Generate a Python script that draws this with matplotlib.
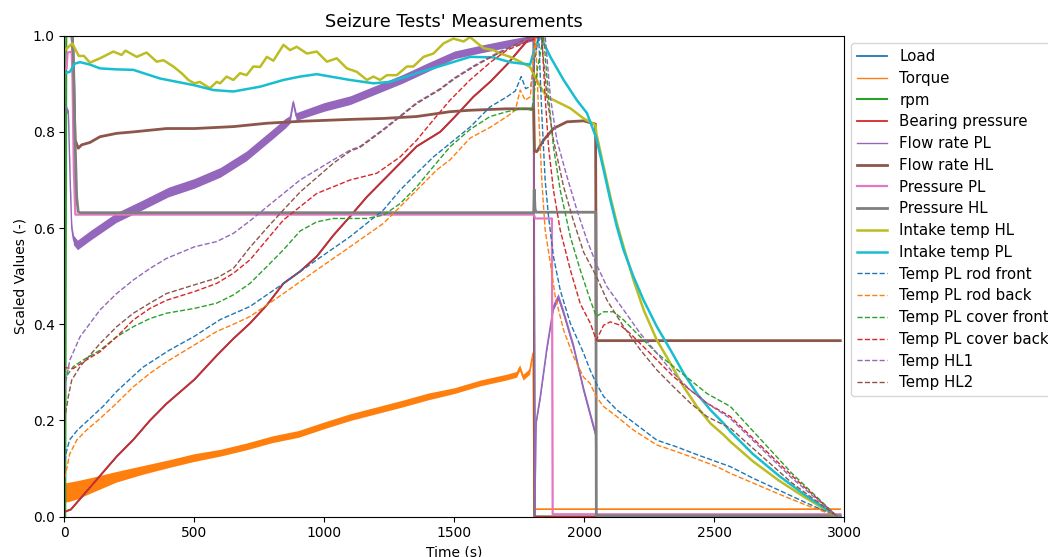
import matplotlib
matplotlib.use("Agg")
import matplotlib.pyplot as plt
import numpy as np

# ---------------------------------------------------------------

# bearing pressure (scaled load coincides with it)
bearing_t = [0, 25, 73, 137, 201, 265, 329, 393, 500, 586, 650, 714, 779, 843, 907, 971,
             1035, 1099, 1164, 1228, 1292, 1356, 1446, 1500, 1574, 1640, 1703, 1750, 1790,
             1806, 1809, 2986]
bearing_v = [0.01, 0.015, 0.045, 0.085, 0.125, 0.16, 0.2, 0.235, 0.285, 0.335, 0.37, 0.402,
             0.44, 0.485, 0.51, 0.541, 0.585, 0.624, 0.665, 0.70, 0.735, 0.77, 0.80, 0.83,
             0.873, 0.905, 0.94, 0.97, 0.995, 1.0, 0.0, 0.0]
load_t = list(bearing_t)
load_v = list(bearing_v)

torque_t = [0, 20, 50, 100, 200, 300, 400, 500, 600, 700, 800, 900, 1000, 1100, 1200, 1300,
            1400, 1500, 1600, 1700, 1740, 1752, 1765, 1790, 1803, 1808, 1812, 2986]
torque_v = [0.05, 0.052, 0.056, 0.065, 0.083, 0.097, 0.11, 0.123, 0.133, 0.146, 0.161, 0.172,
            0.19, 0.207, 0.221, 0.235, 0.25, 0.262, 0.278, 0.29, 0.296, 0.31, 0.29, 0.302,
            0.34, 0.016, 0.016, 0.016]
torque_spread = [0.02, 0.02, 0.019, 0.016, 0.011, 0.009, 0.008, 0.008, 0.007, 0.007, 0.007,
                 0.007, 0.007, 0.007, 0.007, 0.007, 0.007, 0.006, 0.006, 0.006, 0.006, 0.006,
                 0.006, 0.006, 0.004, 0.001, 0.001, 0.001]

rpm_t = [0, 3, 7, 1806, 1809, 2986]
rpm_v = [0.0, 0.0, 1.0, 1.0, 0.0, 0.0]

flow_pl_t = [0, 15, 22, 28, 35, 50, 100, 200, 300, 400, 500, 600, 700, 800, 850, 868, 880,
             892, 1000, 1100, 1200, 1300, 1400, 1500, 1600, 1700, 1800, 1806, 1810, 1816,
             1831, 1857, 1882, 1900, 1921, 1959, 1998, 2044, 2047, 2986]
flow_pl_v = [0.855, 0.84, 0.70, 0.60, 0.575, 0.565, 0.585, 0.622, 0.648, 0.675, 0.693, 0.716,
             0.75, 0.795, 0.818, 0.826, 0.862, 0.832, 0.852, 0.866, 0.888, 0.91, 0.935, 0.96,
             0.972, 0.983, 0.995, 0.99, 0.0, 0.2, 0.25, 0.353, 0.437, 0.457, 0.423, 0.353,
             0.263, 0.17, 0.004, 0.004]
flow_pl_spread = [0.006, 0.006, 0.006, 0.008, 0.01, 0.01, 0.01, 0.01, 0.01, 0.01, 0.01,
                  0.01, 0.01, 0.01, 0.01, 0.008, 0.006, 0.008, 0.009, 0.009, 0.009, 0.009,
                  0.009, 0.008, 0.008, 0.008, 0.006, 0.003, 0.003, 0.006, 0.007, 0.007, 0.007,
                  0.007, 0.007, 0.007, 0.007, 0.007, 0.001, 0.001]

flow_hl_t = [0, 30, 36, 41, 53, 66, 98, 137, 201, 265, 393, 500, 650, 779, 907, 1100, 1228,
             1356, 1484, 1561, 1700, 1806, 1809, 1818, 1844, 1882, 1934, 1998, 2044, 2047, 2986]
flow_hl_v = [1.0, 1.0, 0.9, 0.783, 0.766, 0.773, 0.778, 0.79, 0.797, 0.80, 0.807, 0.807,
             0.811, 0.818, 0.822, 0.826, 0.828, 0.832, 0.842, 0.845, 0.848, 0.848, 0.76,
             0.759, 0.783, 0.807, 0.821, 0.823, 0.816, 0.366, 0.366]

p_pl_t = [0, 8, 12, 28, 31, 36, 42, 1806, 1812, 1876, 1879, 2986]
p_pl_v = [0.928, 0.932, 0.965, 0.967, 0.91, 0.72, 0.628, 0.628, 0.62, 0.62, 0.005, 0.005]

p_hl_t = [0, 28, 34, 40, 47, 53, 60, 1806, 1808, 1811, 1815, 2045, 2047, 2986]
p_hl_v = [1.0, 1.0, 0.97, 0.80, 0.665, 0.634, 0.632, 0.632, 0.68, 0.64, 0.633, 0.633,
          0.002, 0.002]

intake_hl_t = [2, 30, 55, 75, 98, 137, 188, 220, 235, 278, 316, 355, 381, 419, 451, 477, 500,
               521, 541, 560, 586, 599, 624, 650, 676, 701, 727, 753, 779, 804, 843, 868, 894,
               933, 971, 1010, 1048, 1087, 1125, 1164, 1189, 1215, 1241, 1279, 1318, 1343,
               1382, 1420, 1459, 1497, 1536, 1561, 1613, 1651, 1677, 1715, 1754, 1792, 1831,
               1857, 1895, 1947, 1998, 2044, 2047, 2075, 2101, 2126, 2152, 2190, 2229, 2280,
               2332, 2383, 2434, 2486, 2537, 2563, 2650, 2750, 2850, 2975]
intake_hl_v = [0.970, 0.984, 0.958, 0.958, 0.944, 0.953, 0.967, 0.960, 0.969, 0.956, 0.965,
               0.946, 0.949, 0.936, 0.922, 0.908, 0.901, 0.904, 0.897, 0.891, 0.904, 0.901,
               0.915, 0.908, 0.922, 0.918, 0.936, 0.935, 0.956, 0.948, 0.981, 0.970, 0.977,
               0.963, 0.967, 0.946, 0.953, 0.932, 0.925, 0.908, 0.915, 0.908, 0.918, 0.918,
               0.936, 0.936, 0.956, 0.963, 0.984, 0.994, 0.988, 0.997, 0.974, 0.970, 0.963,
               0.956, 0.946, 0.935, 0.894, 0.873, 0.863, 0.849, 0.828, 0.814, 0.797, 0.728,
               0.665, 0.61, 0.561, 0.492, 0.43, 0.367, 0.319, 0.27, 0.229, 0.194, 0.17, 0.156,
               0.115, 0.075, 0.04, 0.0]

intake_pl_t = [0, 21, 40, 60, 98, 137, 200, 265, 368, 500, 573, 650, 753, 843, 907, 971, 1099,
               1189, 1253, 1356, 1459, 1561, 1650, 1715, 1760, 1792, 1808, 1831, 1870, 1921,
               1972, 2011, 2047, 2075, 2101, 2126, 2152, 2190, 2229, 2280, 2332, 2383, 2434,
               2486, 2537, 2563, 2650, 2750, 2850, 2975]
intake_pl_v = [0.922, 0.925, 0.942, 0.945, 0.94, 0.932, 0.93, 0.929, 0.911, 0.897, 0.887,
               0.884, 0.894, 0.908, 0.915, 0.92, 0.908, 0.901, 0.904, 0.922, 0.939, 0.956,
               0.955, 0.945, 0.942, 0.94, 0.97, 1.0, 0.956, 0.908, 0.866, 0.839, 0.787, 0.721,
               0.658, 0.603, 0.554, 0.499, 0.45, 0.395, 0.347, 0.298, 0.256, 0.222, 0.194,
               0.177, 0.13, 0.085, 0.045, 0.0]

# temperatures
rod_front_t = [0, 5, 20, 50, 100, 150, 200, 300, 400, 500, 600, 714, 843, 971, 1099, 1228,
               1292, 1356, 1420, 1484, 1561, 1638, 1703, 1735, 1758, 1775, 1795, 1810, 1825,
               1837, 1850, 1863, 1882, 1908, 1947, 1998, 2023, 2047, 2075, 2126, 2190, 2280,
               2357, 2434, 2511, 2563, 2650, 2750, 2850, 2975]
rod_front_v = [0.10, 0.13, 0.16, 0.18, 0.205, 0.23, 0.26, 0.31, 0.345, 0.375, 0.41, 0.437,
               0.485, 0.534, 0.582, 0.638, 0.679, 0.714, 0.748, 0.776, 0.81, 0.852, 0.873,
               0.885, 0.915, 0.89, 0.895, 0.95, 1.0, 0.839, 0.70, 0.624, 0.541, 0.471, 0.402,
               0.34, 0.305, 0.277, 0.25, 0.222, 0.196, 0.159, 0.145, 0.129, 0.114, 0.104,
               0.08, 0.055, 0.03, 0.0]

rod_back_t = [0, 5, 20, 47, 85, 137, 201, 265, 329, 393, 500, 586, 650, 714, 843, 971, 1099,
              1228, 1356, 1433, 1484, 1561, 1640, 1703, 1735, 1754, 1773, 1793, 1805, 1813,
              1825, 1837, 1850, 1870, 1889, 1921, 1959, 1998, 2023, 2047, 2075, 2126, 2190,
              2280, 2357, 2434, 2511, 2563, 2650, 2750, 2850, 2975]
rod_back_v = [0.08, 0.09, 0.13, 0.159, 0.18, 0.204, 0.236, 0.27, 0.298, 0.322, 0.357, 0.385,
              0.40, 0.416, 0.464, 0.513, 0.561, 0.61, 0.679, 0.721, 0.742, 0.787, 0.81, 0.832,
              0.845, 0.887, 0.866, 0.873, 0.95, 1.0, 0.839, 0.70, 0.596, 0.527, 0.457, 0.388,
              0.333, 0.29, 0.277, 0.249, 0.229, 0.208, 0.18, 0.149, 0.135, 0.12, 0.104, 0.09,
              0.07, 0.047, 0.025, 0.0]

cover_front_t = [0, 5, 34, 73, 137, 201, 265, 329, 393, 500, 586, 650, 714, 779, 843, 907,
                 971, 1035, 1099, 1164, 1228, 1292, 1356, 1420, 1484, 1561, 1638, 1703, 1767,
                 1799, 1820, 1844, 1863, 1882, 1908, 1947, 1985, 2024, 2047, 2075, 2113, 2152,
                 2216, 2280, 2344, 2409, 2473, 2563, 2800, 2975]
cover_front_v = [0.28, 0.29, 0.312, 0.326, 0.346, 0.374, 0.395, 0.412, 0.423, 0.433, 0.444,
                 0.461, 0.485, 0.52, 0.555, 0.594, 0.613, 0.62, 0.62, 0.62, 0.627, 0.651,
                 0.686, 0.728, 0.769, 0.805, 0.832, 0.842, 0.849, 0.845, 0.93, 1.0, 0.873,
                 0.769, 0.679, 0.582, 0.513, 0.45, 0.416, 0.426, 0.426, 0.409, 0.374, 0.34,
                 0.312, 0.284, 0.256, 0.229, 0.09, 0.0]

cover_back_t = [0, 34, 85, 137, 201, 265, 329, 393, 500, 586, 650, 714, 843, 971, 1099, 1202,
                1292, 1356, 1420, 1484, 1561, 1640, 1703, 1793, 1837, 1850, 1863, 1882, 1908,
                1947, 1985, 2024, 2047, 2075, 2101, 2139, 2177, 2229, 2280, 2344, 2409, 2473,
                2563, 2800, 2975]
cover_back_v = [0.31, 0.308, 0.326, 0.343, 0.374, 0.409, 0.433, 0.45, 0.468, 0.485, 0.506,
                0.534, 0.617, 0.672, 0.70, 0.714, 0.748, 0.783, 0.825, 0.866, 0.908, 0.945,
                0.97, 0.99, 1.0, 0.873, 0.769, 0.679, 0.596, 0.513, 0.443, 0.402, 0.367,
                0.398, 0.405, 0.398, 0.381, 0.353, 0.326, 0.291, 0.263, 0.236, 0.208, 0.085,
                0.0]

hl1_t = [0, 5, 21, 60, 137, 201, 265, 329, 393, 500, 586, 650, 714, 779, 843, 907, 971, 1035,
         1099, 1138, 1228, 1356, 1446, 1500, 1574, 1640, 1703, 1780, 1850, 1870, 1895, 1934,
         1972, 2011, 2047, 2088, 2152, 2216, 2280, 2344, 2409, 2473, 2563, 2800, 2975]
hl1_v = [0.25, 0.28, 0.326, 0.374, 0.43, 0.464, 0.492, 0.516, 0.537, 0.561, 0.572, 0.589,
         0.615, 0.644, 0.672, 0.70, 0.721, 0.742, 0.762, 0.77, 0.806, 0.861, 0.89, 0.912,
         0.937, 0.957, 0.974, 0.996, 1.0, 0.873, 0.783, 0.707, 0.638, 0.575, 0.525, 0.478,
         0.43, 0.381, 0.34, 0.298, 0.263, 0.236, 0.204, 0.08, 0.0]

hl2_t = [0, 15, 28, 60, 137, 201, 265, 329, 393, 500, 586, 650, 714, 779, 843, 907, 971, 1035,
         1100, 1138, 1228, 1356, 1446, 1500, 1574, 1640, 1703, 1780, 1835, 1857, 1882, 1921,
         1959, 1998, 2047, 2088, 2152, 2216, 2280, 2344, 2409, 2473, 2563, 2800, 2975]
hl2_v = [0.2, 0.25, 0.284, 0.312, 0.36, 0.395, 0.423, 0.444, 0.464, 0.482, 0.496, 0.516,
         0.56, 0.6, 0.638, 0.675, 0.705, 0.735, 0.76, 0.768, 0.804, 0.859, 0.888, 0.91,
         0.935, 0.955, 0.972, 0.995, 1.0, 0.873, 0.783, 0.686, 0.615, 0.55, 0.50, 0.45,
         0.395, 0.347, 0.305, 0.27, 0.236, 0.208, 0.184, 0.07, 0.0]

# plot
# ----

fig = plt.figure(figsize=(10.48, 5.57), dpi=100)
ax = fig.add_axes([0.0615, 0.0724, 0.7438, 0.8635])

ax.plot(load_t, load_v, color='C0', lw=1.3, label="Load")
ax.plot(torque_t, torque_v, color='C1', lw=1.0, label="Torque")
lo = np.array(torque_v) - np.array(torque_spread)
hi = np.array(torque_v) + np.array(torque_spread)
ax.fill_between(torque_t, lo, hi, color='C1', lw=0)
ax.plot(rpm_t, rpm_v, color='C2', lw=1.5, label="rpm")
ax.plot(bearing_t, bearing_v, color='C3', lw=1.3, label="Bearing pressure")
ax.plot(flow_pl_t, flow_pl_v, color='C4', lw=1.0, label="Flow rate PL")
lo = np.array(flow_pl_v) - np.array(flow_pl_spread)
hi = np.array(flow_pl_v) + np.array(flow_pl_spread)
ax.fill_between(flow_pl_t, lo, hi, color='C4', lw=0)
ax.plot(flow_hl_t, flow_hl_v, color='C5', lw=2.0, label="Flow rate HL")
ax.plot(p_pl_t, p_pl_v, color='C6', lw=1.6, label="Pressure PL")
ax.plot(p_hl_t, p_hl_v, color='C7', lw=2.0, label="Pressure HL")
ax.plot(intake_hl_t, intake_hl_v, color='C8', lw=1.8, label="Intake temp HL")
ax.plot(intake_pl_t, intake_pl_v, color='C9', lw=1.8, label="Intake temp PL")

ax.plot(rod_front_t, rod_front_v, color='C0', ls='--', lw=1.0, label="Temp PL rod front")
ax.plot(rod_back_t, rod_back_v, color='C1', ls='--', lw=1.0, label="Temp PL rod back")
ax.plot(cover_front_t, cover_front_v, color='C2', ls='--', lw=1.0, label="Temp PL cover front")
ax.plot(cover_back_t, cover_back_v, color='C3', ls='--', lw=1.0, label="Temp PL cover back")
ax.plot(hl1_t, hl1_v, color='C4', ls='--', lw=1.0, label="Temp HL1")
ax.plot(hl2_t, hl2_v, color='C5', ls='--', lw=1.0, label="Temp HL2")

ax.set_xlim(0, 3000)
ax.set_ylim(0, 1)
ax.set_xlabel("Time (s)")
ax.set_ylabel("Scaled Values (-)")
ax.set_title("Seizure Tests' Measurements", fontsize=12.8)
ax.legend(loc='upper left', bbox_to_anchor=(1, 1), fontsize=10.8, labelspacing=0.45)

fig.savefig("out.png", dpi=100)
